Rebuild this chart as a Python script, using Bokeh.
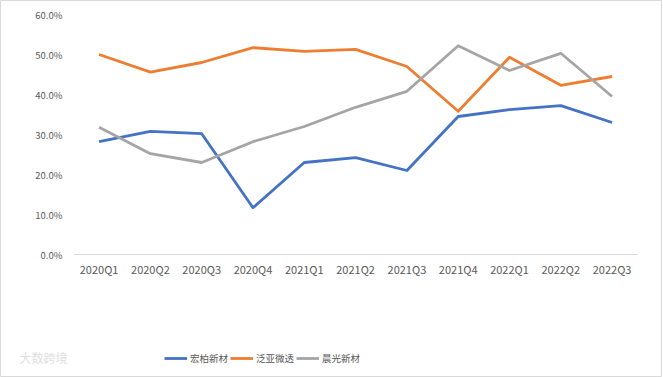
from bokeh.plotting import figure
from bokeh.models import (ColumnDataSource, FixedTicker, PrintfTickFormatter,
                          Legend, LegendItem, Label, Range1d, LinearAxis)
from bokeh.embed import file_html
from bokeh.resources import INLINE

quarters = ["2020Q1", "2020Q2", "2020Q3", "2020Q4", "2021Q1", "2021Q2",
            "2021Q3", "2021Q4", "2022Q1", "2022Q2", "2022Q3"]
hongbai = [28.2, 30.8, 30.2, 11.7, 23.0, 24.2, 21.0, 34.5, 36.2, 37.2, 33.0]
fanya = [50.0, 45.6, 48.0, 51.7, 50.8, 51.3, 47.0, 35.8, 49.3, 42.3, 44.5]
chenguang = [31.8, 25.2, 23.0, 28.2, 32.0, 36.8, 40.8, 52.2, 46.0, 50.3, 39.5]
names = ["宏柏新材", "泛亚微透", "晨光新材"]
colors = ["#4472C4", "#ED7D31", "#A5A5A5"]
y_ticks = [0, 10, 20, 30, 40, 50, 60]

FONT = "Noto Sans CJK SC"
TXT = "#595959"

idx = list(range(len(quarters)))
src = ColumnDataSource(dict(x=idx, q=quarters, a=hongbai, b=fanya, c=chenguang))

p = figure(width=663, height=377,
           x_range=Range1d(-1.922, 10.963), y_range=Range1d(-30.5, 63.5),
           output_backend="svg", toolbar_location=None,
           min_border_left=0, min_border_right=2, min_border_top=0,
           min_border_bottom=1, x_axis_location=None, y_axis_location=None)
p.background_fill_color = "white"
p.border_fill_color = "white"
p.outline_line_color = "#D9D9D9"
p.xgrid.grid_line_color = None
p.ygrid.grid_line_color = None

renderers = []
for col, c in zip(["a", "b", "c"], colors):
    r = p.line("x", col, source=src, line_color=c, line_width=2.8,
               line_join="round")
    renderers.append(r)

yaxis = LinearAxis(fixed_location=-0.5, ticker=FixedTicker(ticks=y_ticks),
                   formatter=PrintfTickFormatter(format="%.1f%%"))
yaxis.axis_line_color = None
yaxis.major_tick_line_color = None
yaxis.minor_tick_line_color = None
yaxis.major_label_text_color = TXT
yaxis.major_label_text_font = FONT
yaxis.major_label_text_font_size = "9.5px"
yaxis.major_label_standoff = 5
p.add_layout(yaxis, "left")

xaxis = LinearAxis(fixed_location=0, ticker=FixedTicker(ticks=idx),
                   major_label_overrides={i: q for i, q in zip(idx, quarters)},
                   bounds=(-0.5, len(quarters) - 0.5))
xaxis.axis_line_color = "#D9D9D9"
xaxis.axis_line_width = 1
xaxis.major_tick_line_color = None
xaxis.minor_tick_line_color = None
xaxis.major_label_text_color = TXT
xaxis.major_label_text_font = FONT
xaxis.major_label_text_font_size = "11px"
xaxis.major_label_standoff = 0
p.add_layout(xaxis, "below")

legend = Legend(items=[LegendItem(label=n, renderers=[r]) for n, r in zip(names, renderers)],
                orientation="horizontal", location=(164, 11),
                label_text_font=FONT, label_text_font_size="9.5px",
                label_text_color=TXT, glyph_width=23, glyph_height=12,
                spacing=2, label_standoff=3, padding=0, margin=0,
                border_line_color=None, background_fill_alpha=0)
p.add_layout(legend, "center")

wm = Label(x=19, y=19, x_units="screen", y_units="screen", text="大数跨境",
           text_font=FONT, text_font_size="12px", text_color="#E0E0E0",
           text_baseline="middle")
p.add_layout(wm)

open("out.html", "w").write(file_html(p, INLINE))
